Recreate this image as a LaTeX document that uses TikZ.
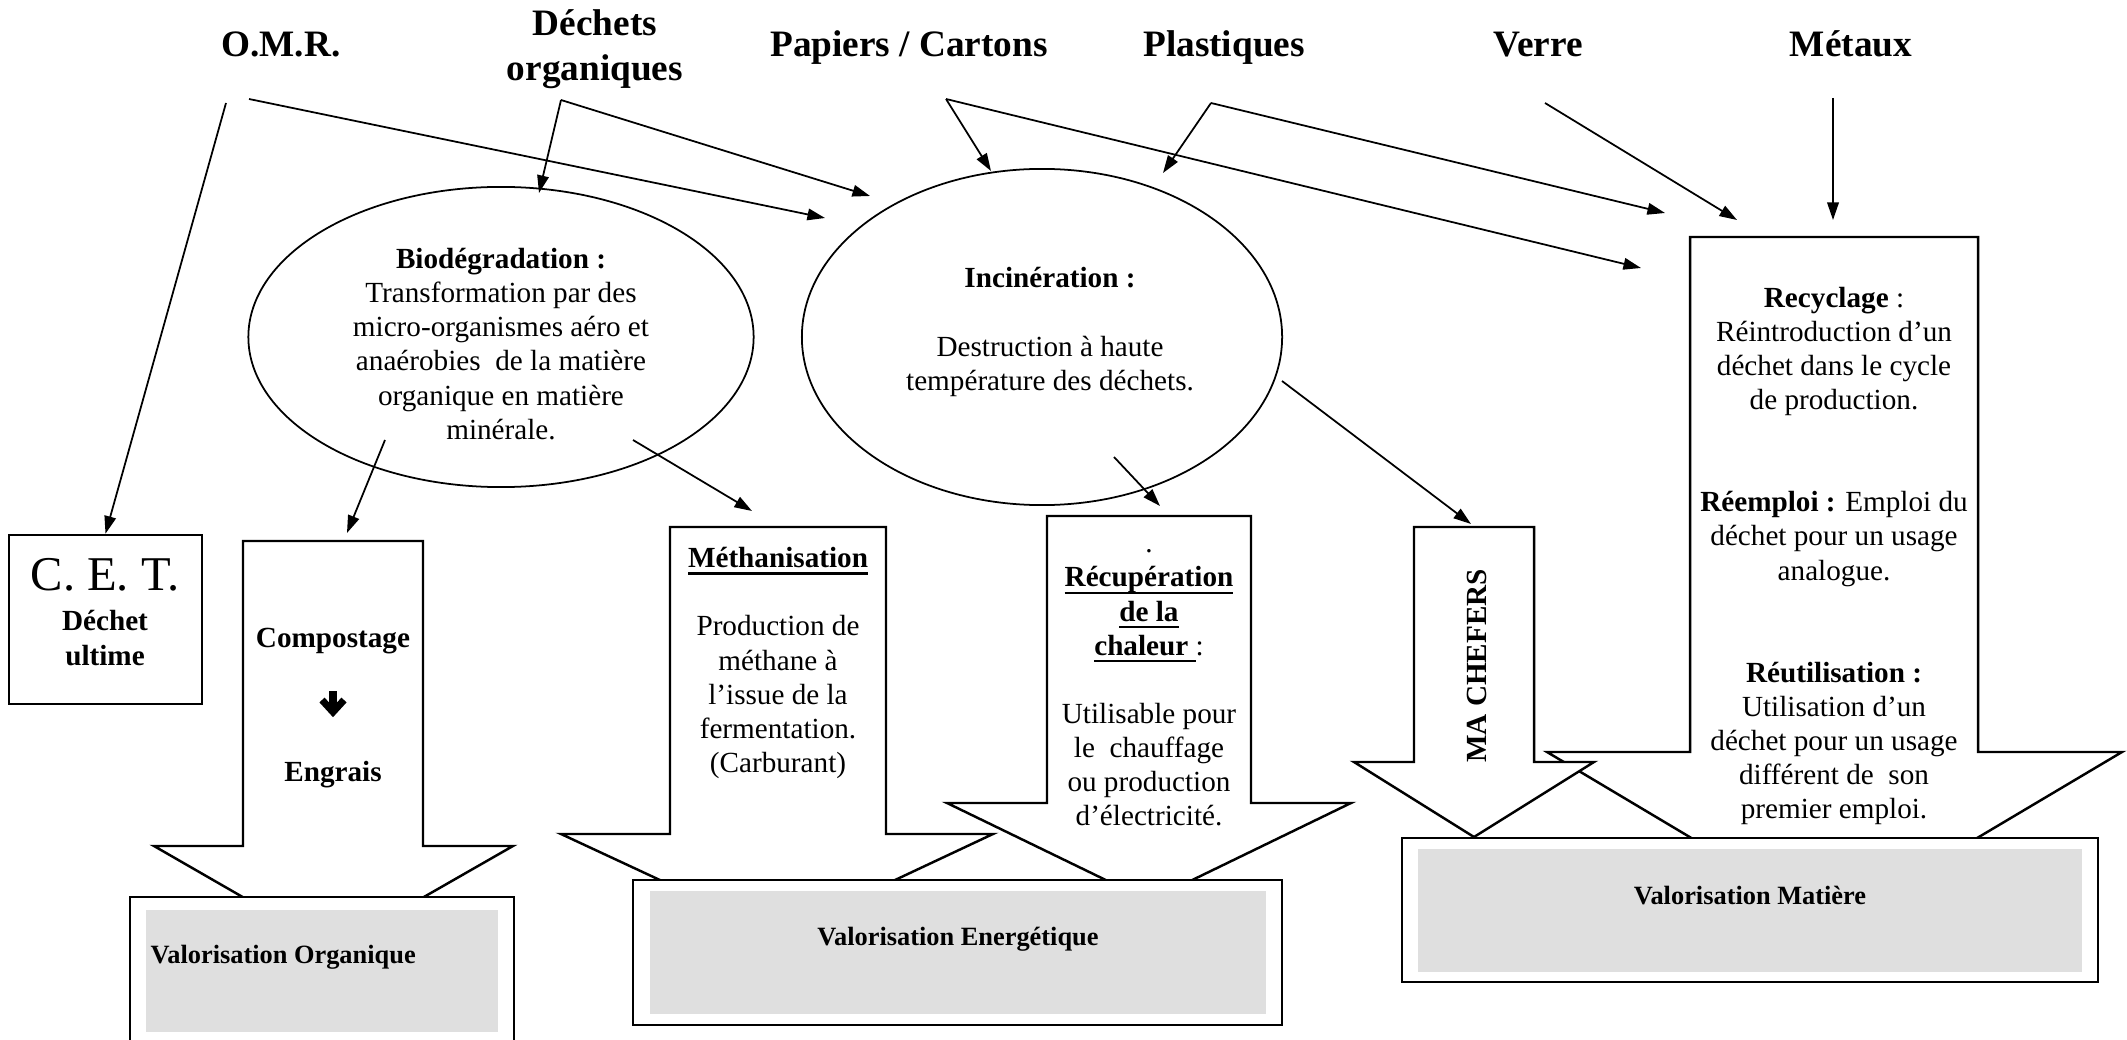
\documentclass[tikz,border=0pt]{standalone}
\usepackage{fontspec}
\setmainfont{Liberation Serif}
\usetikzlibrary{arrows.meta,shapes.geometric}
\definecolor{panelgray}{HTML}{DFDFDF}
\newcommand{\ulin}[1]{\setbox0\hbox{#1}\rlap{\rule[-2pt]{\wd0}{0.65pt}}\box0}

\begin{document}
\begin{tikzpicture}[x=0.01cm,y=-0.01cm,
        flow/.style={line width=.5pt,-{Triangle[length=5pt,width=3.3pt]}},
        outline/.style={line width=.7pt,fill=white,line join=miter},
        source/.style={font=\fontsize{10.6}{12.8}\selectfont\bfseries,align=center,inner sep=0pt},
        body/.style={font=\fontsize{8.3}{9.7}\selectfont,align=center,inner sep=0pt},
        bodybold/.style={font=\fontsize{8.3}{9.7}\selectfont\bfseries,align=center,inner sep=0pt},
        valtext/.style={font=\fontsize{7.5}{9}\selectfont\bfseries,inner sep=0pt},
        panel/.style={fill=panelgray}]
        \useasboundingbox (0,0) rectangle (2127,1040);

        % sources
        \node[source,anchor=base] (omr)     at (281,57)  {O.M.R.};
        \node[source]             (dechorg) at (595,49)  {Déchets\\organiques};
        \node[source,anchor=base] (papiers) at (909,57)  {Papiers / Cartons};
        \node[source,anchor=base] (plast)   at (1224,57) {Plastiques};
        \node[source,anchor=base] (verre)   at (1538,57) {Verre};
        \node[source,anchor=base] (metaux)  at (1851,57) {Métaux};

        % traitements
        \node[draw,ellipse,line width=.5pt,minimum width=5.05cm,minimum height=3cm,inner sep=0pt]   (biodeg) at (501,337)  {};
        \node[draw,ellipse,line width=.5pt,minimum width=4.80cm,minimum height=3.36cm,inner sep=0pt] (incin)  at (1042,337) {};
        \node[body] (biodegtxt) at (501,344) {\textbf{Biodégradation :}\\Transformation par des\\micro-organismes aéro et\\anaérobies~ de la matière\\organique en matière\\minérale.};
        \node[body] (incintxt) at (1050,332) {\textbf{Incinération :}\\~\\Destruction à haute\\température des déchets.};

        % C.E.T.
        \node[draw,line width=.7pt,minimum width=1.93cm,minimum height=1.69cm,inner sep=0pt] (cet) at (105.5,619.5) {};
        \node[font=\fontsize{13.8}{16}\selectfont,inner sep=0pt] (cettitle) at (105,575) {C. E. T.};
        \node[bodybold] (cetsub) at (105,638) {Déchet\\ultime};

        % grosses fleches
        \draw[outline] (243,541)--(423,541)--(423,846)--(513,846)--(333,949)--(154,846)--(243,846)--cycle;
        \draw[outline] (670,527)--(886,527)--(886,834)--(993,834)--(778,935)--(561,834)--(670,834)--cycle;
        \draw[outline] (1047,516)--(1251,516)--(1251,803)--(1351,803)--(1149,901)--(947,803)--(1047,803)--cycle;
        \draw[outline] (1690,237)--(1978,237)--(1978,752)--(2122,752)--(1834,923)--(1547,752)--(1690,752)--cycle;
        \draw[outline] (1414,527)--(1534,527)--(1534,762)--(1594,762)--(1474,837)--(1354,762)--(1414,762)--cycle;

        \node[bodybold] (compost) at (333,641) {Compostage};
        \draw[line width=2pt] (333,691)--(333,709);
        \draw[line width=2pt,line join=miter] (322,700)--(333,712)--(344,700);
        \node[bodybold] (engrais) at (333,775) {Engrais};
        \node[body] (methan) at (778,663) {\textbf{\ulin{Méthanisation}}\\~\\Production de\\méthane à\\l’issue de la\\fermentation.\\(Carburant)};
        \node[body] (recup) at (1149,688) {.\\\textbf{\ulin{Récupération}}\\\textbf{\ulin{de la}}\\\textbf{\ulin{chaleur\ }}:\\~\\Utilisable pour\\le~ chauffage\\ou production\\d’électricité.};
        \node[bodybold,rotate=90] (machefers) at (1477,666) {MA CHEFERS};
        \node[body] (recycl) at (1834,556) {\textbf{Recyclage} :\\Réintroduction d’un\\déchet dans le cycle\\de production.\\~\\~\\\textbf{Réemploi :} Emploi du\\déchet pour un usage\\analogue.\\~\\~\\\textbf{Réutilisation :}\\Utilisation d’un\\déchet pour un usage\\différent de~ son\\premier emploi.};

        % valorisations
        \draw[outline] (130,897) rectangle (514,1060);
        \fill[panel]   (146,910) rectangle (498,1032);
        \node[valtext,anchor=west] (valorg) at (150,957) {Valorisation Organique};

        \draw[outline] (633,880) rectangle (1282,1025);
        \fill[panel]   (650,891) rectangle (1266,1014);
        \node[valtext] (valener) at (958,939) {Valorisation Energétique};

        \draw[outline] (1402,838) rectangle (2098,982);
        \fill[panel]   (1418,849) rectangle (2082,972);
        \node[valtext] (valmat) at (1750,896) {Valorisation Matière};

        % liaisons
        \coordinate (omrA)    at (226,103);
        \coordinate (omrB)    at (249,99);
        \coordinate (dechA)   at (561,100);
        \coordinate (papA)    at (946,99);
        \coordinate (plasA)   at (1211,103);
        \coordinate (verreA)  at (1545,103);
        \coordinate (metA)    at (1833,98);
        \coordinate (biodegA) at (385,440);
        \coordinate (biodegB) at (633,440);
        \coordinate (incinA)  at (1114,457);
        \coordinate (incinB)  at (1282,381);

        \coordinate (biodegN) at (539,193);
        \coordinate (incinW)  at (825,218);
        \coordinate (incinNW) at (870,196);
        \coordinate (incinN)  at (991,171);
        \coordinate (incinNE) at (1163,173);
        \coordinate (recycW)  at (1641,268);
        \coordinate (recycNW) at (1665,213);
        \coordinate (recycN)  at (1737,220);
        \coordinate (recycNE) at (1833,220);
        \coordinate (compostN) at (347,533);
        \coordinate (methanN) at (752,511);
        \coordinate (recupN)  at (1160,506);
        \coordinate (machN)   at (1471,524);

        \draw[flow] (omrA)--(cet.north);
        \draw[flow] (omrB)--(incinW);
        \draw[flow] (dechA)--(biodegN);
        \draw[flow] (dechA)--(incinNW);
        \draw[flow] (papA)--(incinN);
        \draw[flow] (papA)--(recycW);
        \draw[flow] (plasA)--(incinNE);
        \draw[flow] (plasA)--(recycNW);
        \draw[flow] (verreA)--(recycN);
        \draw[flow] (metA)--(recycNE);
        \draw[flow] (biodegA)--(compostN);
        \draw[flow] (biodegB)--(methanN);
        \draw[flow] (incinA)--(recupN);
        \draw[flow] (incinB)--(machN);
      \end{tikzpicture}
\end{document}
